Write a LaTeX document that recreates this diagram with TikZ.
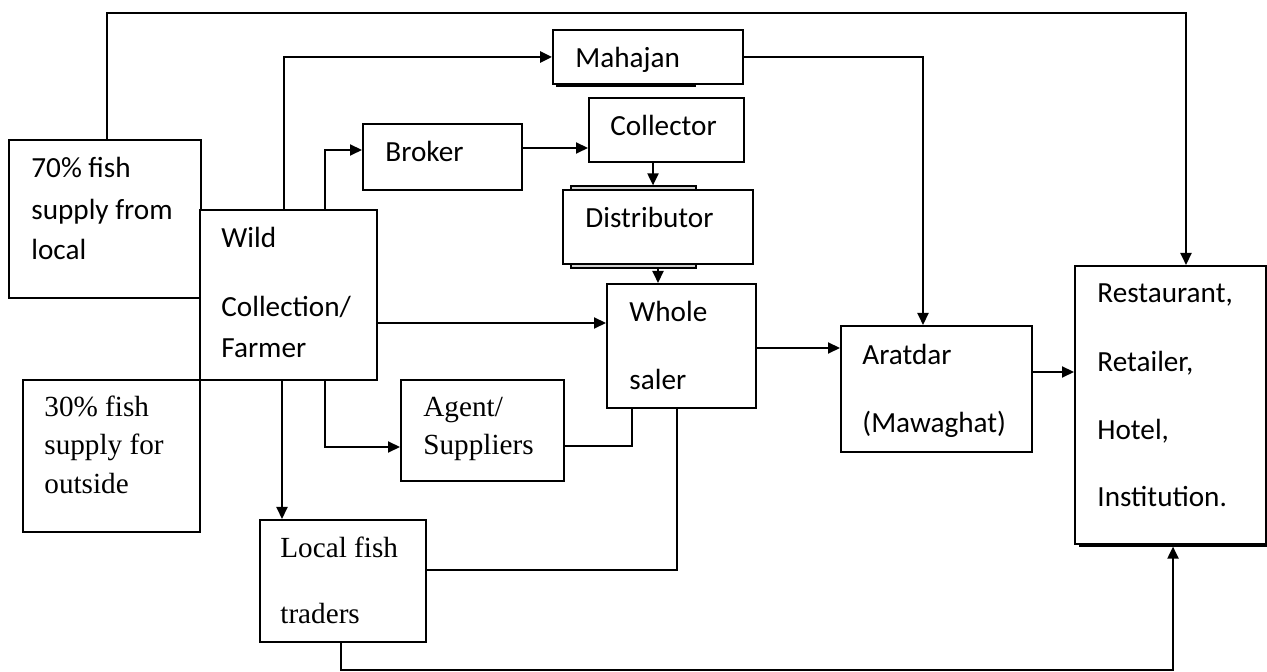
\documentclass[tikz,border=0pt]{standalone}
\usepackage{fontspec}
\setmainfont{Carlito}
\newfontfamily\tnr{Liberation Serif}
\usetikzlibrary{fit,arrows.meta}
\begin{document}
\begin{tikzpicture}[x=0.5pt,y=-0.5pt,
  box/.style={draw=black,line width=1pt,inner sep=0pt,fill=white},
  strip/.style={draw=black,line width=0.6pt,inner sep=0pt,fill=gray!35},
  txt/.style={anchor=base west,inner sep=0pt,font=\fontsize{14.6}{17}\selectfont},
  stxt/.style={anchor=base west,inner sep=0pt,font=\tnr\fontsize{14.6}{17}\selectfont},
  con/.style={draw=black,line width=1pt},
  arr/.style={con,-{Triangle[length=6pt,width=5.5pt]}}]
\useasboundingbox (0,0) rectangle (1267,672);
\fill[white] (0,0) rectangle (1267,672);
% boxes
\node[box,fit={(9,140) (201,298)}] (local70) {};
\node[box,fit={(23,380) (200,532)}] (out30) {};
\node[box,fit={(200,210) (377,380)}] (wild) {};
\node[strip,fit={(557,84) (695,86)}] (mshad) {};
\node[box,fit={(553,30) (743,84)}] (mahajan) {};
\node[box,fit={(363,124) (522,190)}] (broker) {};
\node[box,fit={(589,98) (744,162)}] (collector) {};
\node[strip,fit={(571,186) (696,190)}] (dtop) {};
\node[strip,fit={(571,264) (696,268)}] (dbot) {};
\node[box,fit={(563,190) (753,264)}] (distributor) {};
\node[box,fit={(607,284) (756,408)}] (whole) {};
\node[box,fit={(841,326) (1032,452)}] (aratdar) {};
\node[strip,fit={(1080,544) (1266,546)}] (rshad) {};
\node[box,fit={(1075,266) (1266,544)}] (rest) {};
\node[box,fit={(401,380) (564,481)}] (agent) {};
\node[box,fit={(260,520) (426,642)}] (localtr) {};
% texts
\node[txt] (t70a) at (31,178) {70\% fish};
\node[txt] (t70b) at (31,220) {supply from};
\node[txt] (t70c) at (31,260) {local};
\node[stxt] (t30a) at (44,417) {30\% fish};
\node[stxt] (t30b) at (44,455) {supply for};
\node[stxt] (t30c) at (44,494) {outside};
\node[txt] (twa) at (221,248) {Wild};
\node[txt] (twb) at (221,317) {Collection/};
\node[txt] (twc) at (221,358) {Farmer};
\node[txt] (tmah) at (575,68) {Mahajan};
\node[txt] (tbro) at (385,162) {Broker};
\node[txt] (tcol) at (610,136) {Collector};
\node[txt] (tdis) at (585,228) {Distributor};
\node[txt] (twha) at (629,322) {Whole};
\node[txt] (twhb) at (629,390) {saler};
\node[txt] (tara) at (862,365) {Aratdar};
\node[txt] (tarb) at (862,433) {(Mawaghat)};
\node[txt] (tra) at (1097,303) {Restaurant,};
\node[txt] (trb) at (1097,372) {Retailer,};
\node[txt] (trc) at (1097,440) {Hotel,};
\node[txt] (trd) at (1097,507) {Institution.};
\node[stxt] (taga) at (423,417) {Agent/};
\node[stxt] (tagb) at (423,455) {Suppliers};
\node[stxt] (tloa) at (280,558) {Local fish};
\node[stxt] (tlob) at (280,623) {traders};
% helper coordinates
\coordinate (t1) at (107,13);
\coordinate (t2) at (1186,13);
\coordinate (m1) at (284,57);
\coordinate (b1) at (325,150);
\coordinate (b2) at (0,148);
\coordinate (cd) at (653,0);
\coordinate (dw) at (658,0);
\coordinate (y323) at (0,323);
\coordinate (y348) at (0,348);
\coordinate (x923) at (923,0);
\coordinate (y372) at (0,372);
\coordinate (x282) at (282,0);
\coordinate (a1) at (325,447);
\coordinate (y446) at (0,446);
\coordinate (x632) at (632,0);
\coordinate (y570) at (0,570);
\coordinate (x677) at (677,0);
\coordinate (l1) at (341,670);
\coordinate (l2) at (1173,670);
% connectors
\draw[arr] (local70.north -| t1) -- (t1) -- (t2) -- (rest.north -| t2);
\draw[arr,line width=1.4pt] (wild.north -| m1) |- (mahajan.west |- m1);
\draw[arr] (wild.north -| b1) |- (broker.west |- b1);
\draw[arr] (broker.east |- b2) -- (collector.west |- b2);
\draw[arr] (collector.south -| cd) -- (dtop.north -| cd);
\draw[arr] (dbot.south -| dw) -- (whole.north -| dw);
\draw[arr] (wild.east |- y323) -- (whole.west |- y323);
\draw[arr] (whole.east |- y348) -- (aratdar.west |- y348);
\draw[arr] (mahajan.east |- m1) -| (aratdar.north -| x923);
\draw[arr] (aratdar.east |- y372) -- (rest.west |- y372);
\draw[arr] (wild.south -| x282) -- (localtr.north -| x282);
\draw[arr] (wild.south -| a1) |- (agent.west |- a1);
\draw[con] (agent.east |- y446) -| (whole.south -| x632);
\draw[con] (localtr.east |- y570) -| (whole.south -| x677);
\draw[arr] (localtr.south -| l1) -- (l1) -- (l2) -- (rshad.south -| l2);
\end{tikzpicture}
\end{document}
